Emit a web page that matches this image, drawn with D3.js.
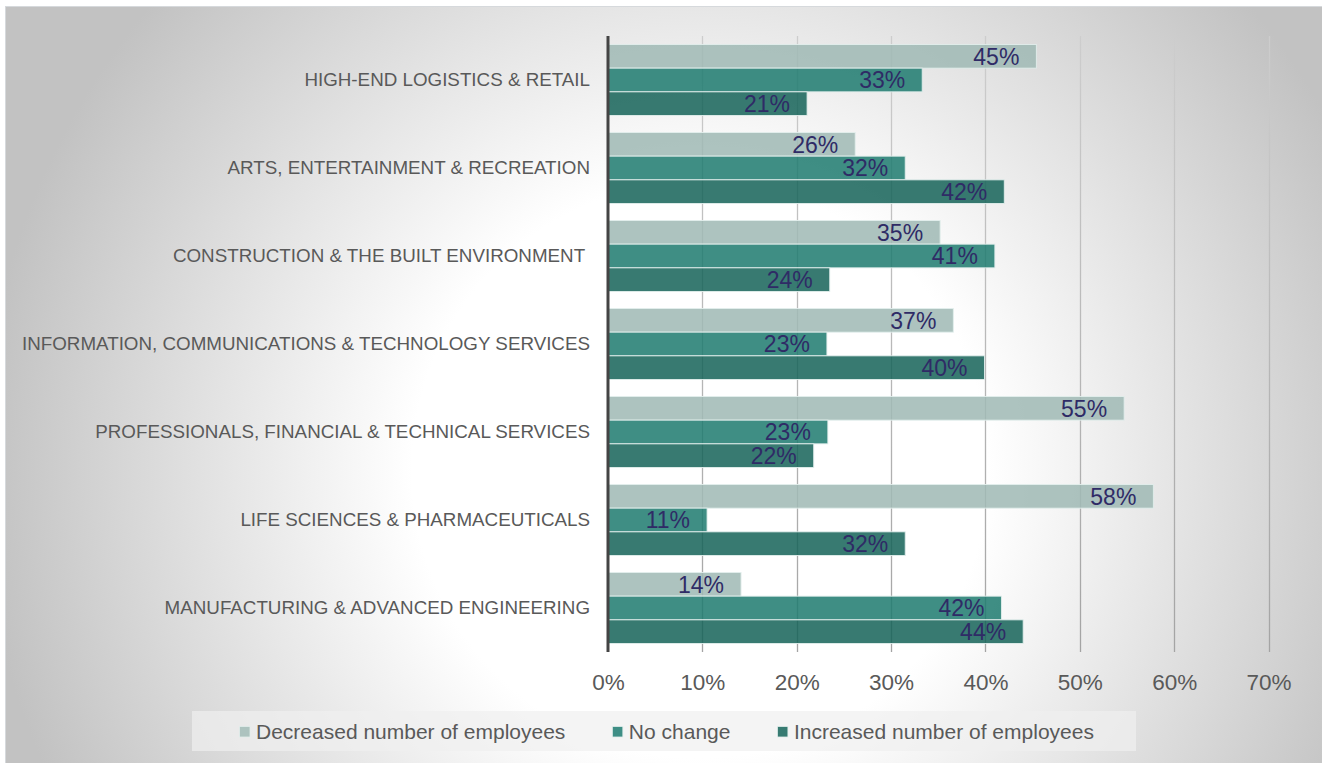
<!DOCTYPE html>
<html>
<head>
<meta charset="utf-8">
<script src="https://cdn.jsdelivr.net/npm/d3@7/dist/d3.min.js"></script>
<style>
  html, body { margin: 0; padding: 0; background: #ffffff; }
  svg { display: block; font-family: Arial, "Liberation Sans", Helvetica, sans-serif; }
</style>
</head>
<body>
<svg id="chart" width="1322" height="763"></svg>
<script>
// ---- Data ----
const categories = [
  "HIGH-END LOGISTICS & RETAIL",
  "ARTS, ENTERTAINMENT & RECREATION",
  "CONSTRUCTION & THE BUILT ENVIRONMENT ",
  "INFORMATION, COMMUNICATIONS & TECHNOLOGY SERVICES",
  "PROFESSIONALS, FINANCIAL & TECHNICAL SERVICES",
  "LIFE SCIENCES & PHARMACEUTICALS",
  "MANUFACTURING & ADVANCED ENGINEERING"
];
const seriesNames = ["Decreased number of employees", "No change", "Increased number of employees"];
const decreased = [45.4, 26.2, 35.2, 36.6, 54.7, 57.8, 14.1];
const noChange  = [33.3, 31.5, 41.0, 23.2, 23.3, 10.5, 41.7];
const increased = [21.1, 42.0, 23.5, 39.9, 21.8, 31.5, 44.0];
const xTicks = [0, 10, 20, 30, 40, 50, 60, 70];

const seriesValues = [decreased, noChange, increased];
const seriesColors = ["#9fb9b5", "#1f7b70", "#17645a"];
const legendColors = ["#adc3bf", "#3e8e85", "#377b72"];

// ---- Layout ----
const W = 1322, H = 763;
const plot = { left: 608, right: 1268.5, top: 36, bottom: 652 };

const svg = d3.select("#chart");
const defs = svg.append("defs");

const bg = defs.append("radialGradient")
  .attr("id", "bgGrad").attr("gradientUnits", "userSpaceOnUse")
  .attr("cx", 700).attr("cy", 470).attr("r", 720);
bg.append("stop").attr("offset", 0).attr("stop-color", "#ffffff");
bg.append("stop").attr("offset", 0.4).attr("stop-color", "#ffffff");
bg.append("stop").attr("offset", 1).attr("stop-color", "#c2c2c2");

const gg = defs.append("linearGradient")
  .attr("id", "gridGrad").attr("gradientUnits", "userSpaceOnUse")
  .attr("x1", 0).attr("y1", plot.top).attr("x2", 0).attr("y2", plot.bottom);
gg.append("stop").attr("offset", 0).attr("stop-color", "#cdcdcd");
gg.append("stop").attr("offset", 1).attr("stop-color", "#a4a4a4");

// chart area background
svg.append("rect")
  .attr("x", 5.5).attr("y", 6.5).attr("width", W - 5).attr("height", H - 6)
  .attr("fill", "url(#bgGrad)").attr("stroke", "#d6d9dc").attr("stroke-width", 1);

// scales
const x = d3.scaleLinear().domain([0, 70]).range([plot.left, plot.right]);
const y = d3.scaleBand().domain(categories).range([plot.top, plot.bottom])
  .paddingInner(17 / 88).paddingOuter(8.5 / 88);
const ySub = d3.scaleBand().domain(d3.range(seriesNames.length)).range([0, y.bandwidth()]);

// gridlines
svg.append("g").selectAll("line").data(xTicks.slice(1)).join("line")
  .attr("x1", d => Math.round(x(d)) + 0.5).attr("x2", d => Math.round(x(d)) + 0.5)
  .attr("y1", plot.top).attr("y2", plot.bottom)
  .attr("stroke", "url(#gridGrad)").attr("stroke-width", 1.3);

const rows = [];
categories.forEach((c, i) => {
  seriesValues.forEach((vals, s) => rows.push({ c, s, v: vals[i] }));
});

// bars
const barG = svg.append("g");
barG.selectAll("rect").data(rows).join("rect")
  .attr("x", x(0))
  .attr("y", d => y(d.c) + ySub(d.s))
  .attr("width", d => x(d.v) - x(0))
  .attr("height", ySub.bandwidth())
  .attr("fill", d => seriesColors[d.s])
  .attr("fill-opacity", 0.86)
  .attr("stroke", "#e2eeec").attr("stroke-width", 1).attr("stroke-opacity", 0.9);

// data labels
barG.selectAll("text").data(rows).join("text")
  .attr("x", d => x(d.v) - 17)
  .attr("y", d => y(d.c) + ySub(d.s) + ySub.bandwidth() / 2)
  .attr("dy", "0.36em")
  .attr("text-anchor", "end")
  .attr("font-size", 23)
  .attr("fill", "#2f2b66")
  .text(d => Math.round(d.v) + "%");

// vertical axis line
svg.append("line")
  .attr("x1", plot.left).attr("x2", plot.left)
  .attr("y1", plot.top).attr("y2", plot.bottom)
  .attr("stroke", "#444444").attr("stroke-width", 3);

// category labels (y axis)
const yAxis = d3.axisLeft(y).tickSize(0).tickPadding(18);
const yg = svg.append("g").attr("transform", `translate(${plot.left},0)`).call(yAxis);
yg.select(".domain").remove();
yg.selectAll("text")
  .attr("font-size", 18.8).attr("fill", "#595959")
  .attr("font-family", "Arial, 'Liberation Sans', sans-serif")
  .style("white-space", "pre");

// x axis tick labels
const xAxis = d3.axisBottom(x).tickValues(xTicks).tickFormat(d => d + "%").tickSize(0).tickPadding(0);
const xg = svg.append("g").attr("transform", `translate(0,${plot.bottom})`).call(xAxis);
xg.select(".domain").remove();
xg.selectAll("text")
  .attr("y", 37.5).attr("dy", 0)
  .attr("font-size", 22.5).attr("fill", "#595959")
  .attr("font-family", "Arial, 'Liberation Sans', sans-serif");

// legend
svg.append("rect")
  .attr("x", 192).attr("y", 711).attr("width", 944).attr("height", 40)
  .attr("fill", "#f0f0f0").attr("fill-opacity", 0.7);

const lg = svg.append("g");
let lx = 239.5;
seriesNames.forEach((name, i) => {
  lg.append("rect").attr("x", lx).attr("y", 726.5).attr("width", 10.5).attr("height", 10.5)
    .attr("fill", legendColors[i]).attr("stroke", "#e2eeec").attr("stroke-width", 0.8);
  const t = lg.append("text").attr("x", lx + 16.5).attr("y", 739.3)
    .attr("font-size", 21).attr("fill", "#595959").text(name);
  const w = t.node().getComputedTextLength();
  lx = lx + 16.5 + w + 47;
});
</script>
</body>
</html>
